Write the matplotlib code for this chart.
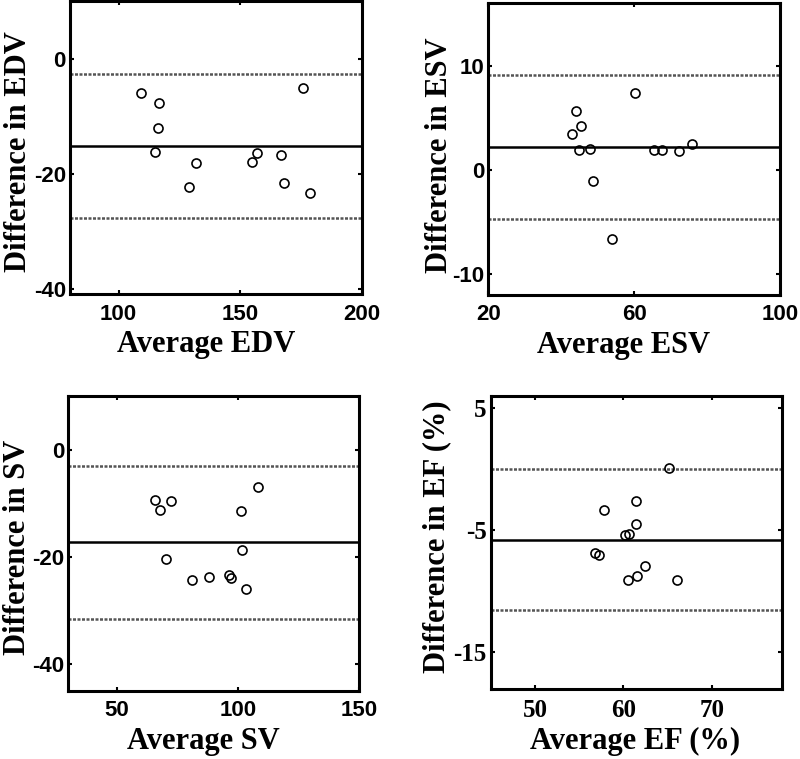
import numpy as np
import matplotlib.pyplot as plt

plt.rcParams['axes.unicode_minus'] = False

# Bland-Altman data
edv_avg = [109.0, 116.5, 116.2, 114.9, 131.7, 128.8, 154.8, 156.7, 166.9, 168.0, 175.6, 178.6]
edv_diff = [-5.9, -7.7, -12.1, -16.2, -18.1, -22.3, -17.9, -16.4, -16.8, -21.6, -5.1, -23.3]
edv_lines = [-2.6, -15.2, -27.7]

esv_avg = [44.1, 45.3, 43.0, 44.9, 47.8, 48.8, 53.8, 60.2, 65.5, 67.6, 72.2, 75.8]
esv_diff = [5.65, 4.24, 3.44, 1.91, 2.01, -1.05, -6.6, 7.37, 1.88, 1.88, 1.82, 2.52]
esv_lines = [9.1, 2.23, -4.75]

sv_avg = [65.8, 67.9, 72.3, 70.1, 81.1, 87.8, 96.1, 97.0, 101.2, 101.8, 103.2, 108.4]
sv_diff = [-9.4, -11.2, -9.6, -20.4, -24.4, -23.7, -23.5, -24.0, -11.4, -18.8, -26.0, -7.0]
sv_lines = [-3.1, -17.3, -31.7]

ef_avg = [57.8, 61.4, 61.4, 60.2, 60.6, 56.8, 57.3, 62.5, 61.5, 60.5, 66.1, 65.2]
ef_diff = [-3.33, -2.58, -4.48, -5.39, -5.28, -6.85, -7.06, -7.94, -8.77, -9.04, -9.04, 0.14]
ef_lines = [0.0, -5.83, -11.55]

serif = 'Liberation Serif'
sans = 'Liberation Sans'

fig = plt.figure(figsize=(8, 7.59), dpi=100)

panels = [
    # rect, x, y, lines, xlim, ylim, xticks, yticks, xlabel, ylabel, tick font, tick size, label pos
    ([0.0875, 0.6126, 0.365, 0.386], edv_avg, edv_diff, edv_lines, (80, 200), (-40.9, 10),
     [100, 150, 200], [0, -20, -40], 'Average EDV', 'Difference in EDV', sans, 16, (0.466, -0.128, 0.485)),
    ([0.6104, 0.6117, 0.3646, 0.3839], esv_avg, esv_diff, esv_lines, (20, 100), (-12, 16),
     [20, 60, 100], [10, 0, -10], 'Average ESV', 'Difference in ESV', sans, 16, (0.463, -0.117, 0.479)),
    ([0.0854, 0.0900, 0.3638, 0.3883], sv_avg, sv_diff, sv_lines, (30, 150), (-45, 10),
     [50, 100, 150], [0, -20, -40], 'Average SV', 'Difference in SV', sans, 16, (0.463, -0.124, 0.486)),
    ([0.6134, 0.0922, 0.3646, 0.386], ef_avg, ef_diff, ef_lines, (45, 78), (-18, 6),
     [50, 60, 70], [5, -5, -15], 'Average EF (%)', 'Difference in EF (%)', serif, 18, (0.495, -0.135, 0.52)),
]

for rect, x, y, lines, xl, yl, xt, yt, xlab, ylab, tf, ts, lp in panels:
    ax = fig.add_axes(rect)
    ax.axhline(lines[0], color='#555555', lw=1.8, ls=(0, (1.2, 0.6)))
    ax.axhline(lines[1], color='black', lw=1.8)
    ax.axhline(lines[2], color='#555555', lw=1.8, ls=(0, (1.2, 0.6)))
    ax.plot(x, y, 'o', ms=6.5, mfc='none', mec='black', mew=1.2)
    ax.set_xlim(xl)
    ax.set_ylim(yl)
    ax.set_xticks(xt)
    ax.set_yticks(yt)
    ax.tick_params(direction='in', length=3, width=1.5, top=True, right=True, pad=3)
    ax.tick_params(axis='x', pad=7)
    for lab in ax.get_xticklabels() + ax.get_yticklabels():
        lab.set_fontfamily(tf)
        lab.set_fontweight('bold')
        lab.set_fontsize(ts)
    for s in ax.spines.values():
        s.set_linewidth(2.2)
    ax.set_xlabel(xlab, fontfamily=serif, fontweight='bold', fontsize=22, labelpad=4)
    ax.xaxis.label.set_x(lp[0])
    ax.set_ylabel(ylab, fontfamily=serif, fontweight='bold', fontsize=22)
    ax.yaxis.set_label_coords(lp[1], lp[2])

plt.savefig('out.png')
